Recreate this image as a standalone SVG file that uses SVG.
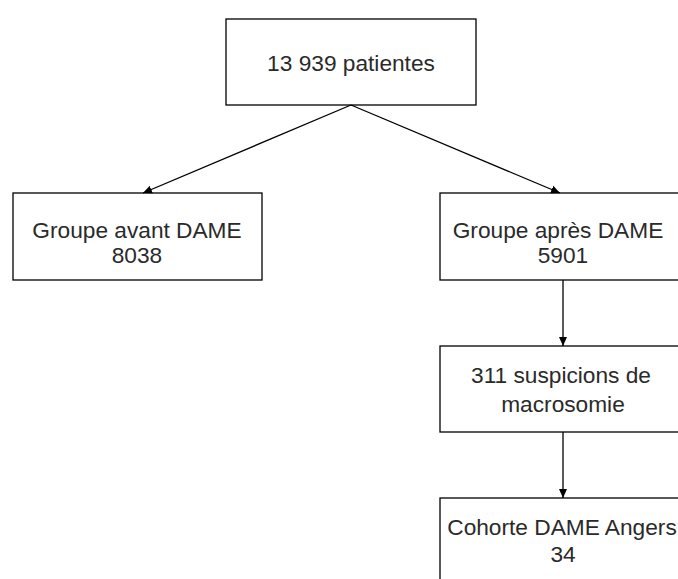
<svg xmlns="http://www.w3.org/2000/svg" width="678" height="579" viewBox="0 0 678 579">
<defs>
<style>
.box{fill:#fff;stroke:#000;stroke-width:1.3}
.t{font-family:"Liberation Sans",Arial,sans-serif;font-size:22.7px;fill:#2a2a2a;text-anchor:middle}
.c{stroke:#000;stroke-width:1.3;fill:none}
</style>
<marker id="ah" markerWidth="10" markerHeight="10" refX="9" refY="5" orient="auto" markerUnits="userSpaceOnUse">
<path d="M0,1 L9,5 L0,9 Z" fill="#000"/>
</marker>
</defs>
<rect width="678" height="579" fill="#fff"/>
<g id="n1"><rect class="box" x="226" y="19" width="250" height="86"/><text class="t" x="351" y="71">13 939 patientes</text></g>
<g id="n2"><rect class="box" x="13" y="193" width="249" height="87"/><text class="t" x="137" y="238">Groupe avant DAME</text><text class="t" x="137" y="263">8038</text></g>
<g id="n3"><rect class="box" x="440" y="193" width="250" height="87"/><text class="t" x="558" y="238">Groupe après DAME</text><text class="t" x="563" y="263">5901</text></g>
<g id="n4"><rect class="box" x="440" y="346" width="250" height="86"/><text class="t" x="561" y="383">311 suspicions de</text><text class="t" x="563" y="412">macrosomie</text></g>
<g id="n5"><rect class="box" x="440" y="498" width="250" height="100"/><text class="t" x="562" y="535">Cohorte DAME Angers</text><text class="t" x="563" y="562">34</text></g>
<g id="connectors">
<line class="c" x1="351" y1="105" x2="143" y2="193" marker-end="url(#ah)"/>
<line class="c" x1="351" y1="105" x2="560" y2="193" marker-end="url(#ah)"/>
<line class="c" x1="563" y1="280" x2="563" y2="346" marker-end="url(#ah)"/>
<line class="c" x1="563" y1="432" x2="563" y2="498" marker-end="url(#ah)"/>
</g>
</svg>
